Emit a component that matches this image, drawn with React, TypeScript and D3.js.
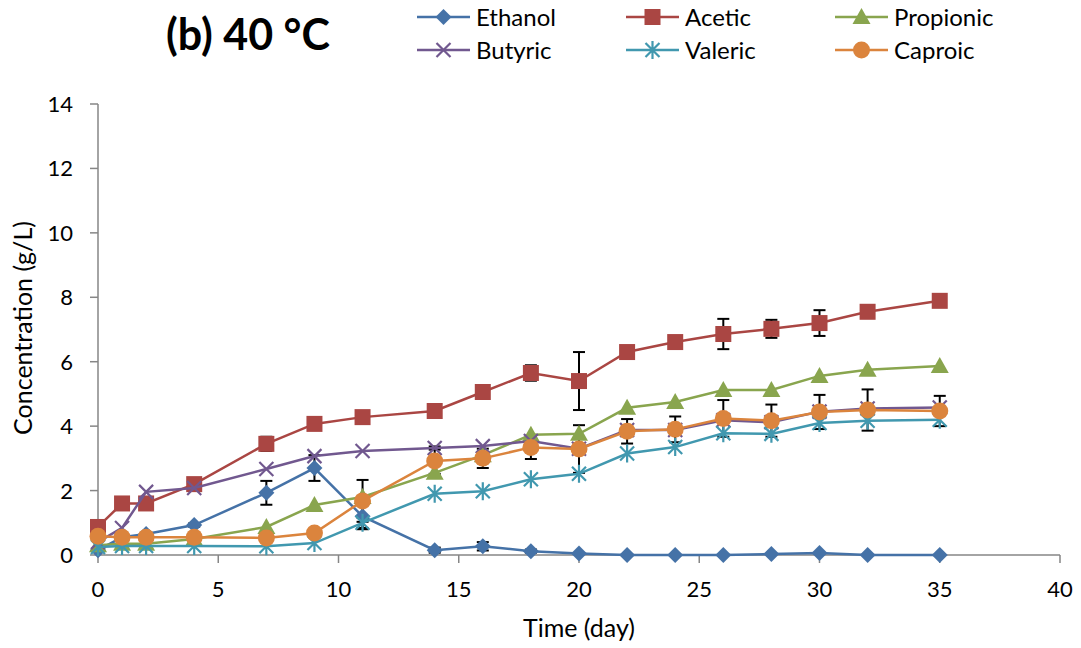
import React from "react";
import * as d3 from "d3";

const days = [0, 1, 2, 4, 7, 9, 11, 14, 16, 18, 20, 22, 24, 26, 28, 30, 32, 35];

const ethanol = [0.15, 0.55, 0.65, 0.93, 1.93, 2.7, 1.2, 0.15, 0.27, 0.12, 0.05, 0.0, 0.0, 0.0, 0.03, 0.06, 0.0, 0.0];
const acetic = [0.87, 1.6, 1.6, 2.2, 3.45, 4.07, 4.28, 4.47, 5.06, 5.65, 5.4, 6.3, 6.61, 6.86, 7.02, 7.2, 7.55, 7.89];
const propionic = [0.3, 0.35, 0.35, 0.5, 0.87, 1.55, 1.8, 2.55, 3.1, 3.73, 3.76, 4.57, 4.75, 5.12, 5.12, 5.56, 5.75, 5.87];
const butyric = [0.4, 0.84, 1.96, 2.08, 2.67, 3.07, 3.23, 3.32, 3.38, 3.54, 3.3, 3.88, 3.88, 4.18, 4.12, 4.45, 4.55, 4.58];
const valeric = [0.25, 0.28, 0.28, 0.28, 0.27, 0.37, 1.0, 1.9, 1.98, 2.35, 2.52, 3.15, 3.35, 3.78, 3.76, 4.1, 4.17, 4.2];
const caproic = [0.58, 0.55, 0.55, 0.55, 0.53, 0.68, 1.68, 2.92, 3.0, 3.34, 3.29, 3.84, 3.9, 4.24, 4.17, 4.44, 4.5, 4.47];

const ethanolErr = [0.05, 0, 0, 0.05, 0.37, 0.4, 0.4, 0.08, 0.13, 0.05, 0, 0, 0, 0, 0, 0, 0, 0];
const aceticErr = [0.05, 0, 0, 0, 0.22, 0, 0, 0, 0, 0.24, 0.9, 0, 0, 0.47, 0.28, 0.4, 0.12, 0];
const propionicErr = [0, 0, 0, 0, 0, 0, 0, 0, 0, 0, 0, 0, 0, 0, 0, 0, 0, 0];
const butyricErr = [0, 0, 0, 0, 0, 0, 0, 0.05, 0, 0, 0, 0, 0, 0, 0, 0, 0, 0];
const valericErr = [0, 0, 0, 0, 0, 0, 0.16, 0, 0, 0, 0, 0, 0, 0, 0, 0, 0, 0];
const caproicErr = [0, 0, 0, 0, 0, 0, 0.65, 0.4, 0.3, 0.36, 0.74, 0.38, 0.4, 0.57, 0.5, 0.53, 0.64, 0.47];

const xTicks = [0, 5, 10, 15, 20, 25, 30, 35, 40];
const yTicks = [0, 2, 4, 6, 8, 10, 12, 14];

type Marker = "diamond" | "square" | "triangle" | "x" | "star" | "circle";

const seriesNames = ["Ethanol", "Acetic", "Propionic", "Butyric", "Valeric", "Caproic"];
const seriesValues = [ethanol, acetic, propionic, butyric, valeric, caproic];
const seriesErrors = [ethanolErr, aceticErr, propionicErr, butyricErr, valericErr, caproicErr];
const seriesColors = ["#4572A7", "#AA4643", "#89A54E", "#71588F", "#4198AF", "#DB843D"];
const seriesMarkers: Marker[] = ["diamond", "square", "triangle", "x", "star", "circle"];

const FONT = "Lato, 'Open Sans', sans-serif";

function MarkerShape({ type, x, y, color }: { type: Marker; x: number; y: number; color: string }) {
  switch (type) {
    case "diamond":
      return <path d={`M${x},${y - 8}L${x + 8},${y}L${x},${y + 8}L${x - 8},${y}Z`} fill={color} />;
    case "square":
      return <rect x={x - 8} y={y - 8} width={16} height={16} fill={color} />;
    case "triangle":
      return <path d={`M${x},${y - 9}L${x + 9},${y + 7}L${x - 9},${y + 7}Z`} fill={color} />;
    case "circle":
      return <circle cx={x} cy={y} r={8.5} fill={color} />;
    case "x":
      return (
        <path d={`M${x - 7},${y - 7}L${x + 7},${y + 7}M${x - 7},${y + 7}L${x + 7},${y - 7}`} stroke={color} strokeWidth={2.2} fill="none" />
      );
    case "star":
      return (
        <path
          d={`M${x - 7},${y - 7}L${x + 7},${y + 7}M${x - 7},${y + 7}L${x + 7},${y - 7}M${x},${y - 9}L${x},${y + 9}`}
          stroke={color}
          strokeWidth={2.2}
          fill="none"
        />
      );
  }
}

export default function App() {
  const width = 1081;
  const height = 648;
  const x = d3.scaleLinear().domain([0, 40]).range([98, 1060]);
  const y = d3.scaleLinear().domain([0, 14]).range([555, 104]);
  const line = d3
    .line<number>()
    .x((_, i) => x(days[i]))
    .y((v) => y(v));

  const legendPos = [
    { lx: 417, ly: 17 },
    { lx: 626, ly: 17 },
    { lx: 835, ly: 17 },
    { lx: 417, ly: 50 },
    { lx: 626, ly: 50 },
    { lx: 835, ly: 50 },
  ];

  return (
    <svg width={width} height={height} style={{ position: "absolute", left: 0, top: 0 }} fontFamily={FONT}>
      <rect width={width} height={height} fill="white" />
      {/* Title */}
      <text x={166} y={50} fontSize={43} fontWeight="bold" fill="#000">
        (b) 40 °C
      </text>
      {/* Legend */}
      {seriesNames.map((name, i) => {
        const p = legendPos[i];
        return (
          <g key={name}>
            <line x1={p.lx} x2={p.lx + 53} y1={p.ly} y2={p.ly} stroke={seriesColors[i]} strokeWidth={2.5} />
            <MarkerShape type={seriesMarkers[i]} x={p.lx + 26.5} y={p.ly} color={seriesColors[i]} />
            <text x={p.lx + 59} y={p.ly + 8.5} fontSize={24} fill="#000">
              {name}
            </text>
          </g>
        );
      })}
      {/* Axes */}
      <line x1={x(0)} x2={x(40)} y1={y(0)} y2={y(0)} stroke="#868686" strokeWidth={1.5} />
      <line x1={x(0)} x2={x(0)} y1={y(0)} y2={y(14)} stroke="#868686" strokeWidth={1.5} />
      {xTicks.map((t) => (
        <g key={"xt" + t}>
          <line x1={x(t)} x2={x(t)} y1={y(0)} y2={y(0) + 8} stroke="#868686" strokeWidth={1.5} />
          <text x={x(t)} y={y(0) + 42} fontSize={22} textAnchor="middle" fill="#000">
            {t}
          </text>
        </g>
      ))}
      {yTicks.map((t) => (
        <g key={"yt" + t}>
          <line x1={x(0) - 8} x2={x(0)} y1={y(t)} y2={y(t)} stroke="#868686" strokeWidth={1.5} />
          <text x={x(0) - 25} y={y(t) + 8} fontSize={22} textAnchor="end" fill="#000">
            {t}
          </text>
        </g>
      ))}
      <text x={579} y={637} fontSize={25} textAnchor="middle" fill="#000">
        Time (day)
      </text>
      <text transform={`translate(32,328) rotate(-90)`} fontSize={25} textAnchor="middle" fill="#000">
        Concentration (g/L)
      </text>
      {/* Error bars */}
      {seriesValues.map((vals, si) =>
        vals.map((v, i) => {
          const e = seriesErrors[si][i];
          if (!e) return null;
          const cx = x(days[i]);
          return (
            <g key={`e${si}-${i}`} stroke="#000" strokeWidth={2}>
              <line x1={cx} x2={cx} y1={y(v + e)} y2={y(Math.max(0, v - e))} />
              <line x1={cx - 6} x2={cx + 6} y1={y(v + e)} y2={y(v + e)} />
              <line x1={cx - 6} x2={cx + 6} y1={y(Math.max(0, v - e))} y2={y(Math.max(0, v - e))} />
            </g>
          );
        })
      )}
      {/* Lines and markers */}
      {seriesValues.map((vals, si) => (
        <g key={"s" + si}>
          <path d={line(vals) || ""} fill="none" stroke={seriesColors[si]} strokeWidth={2.5} />
          {vals.map((v, i) => (
            <MarkerShape key={i} type={seriesMarkers[si]} x={x(days[i])} y={y(v)} color={seriesColors[si]} />
          ))}
        </g>
      ))}
    </svg>
  );
}
